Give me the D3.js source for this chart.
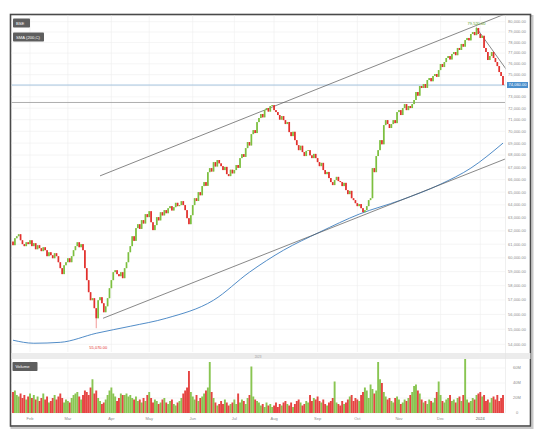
<!DOCTYPE html>
<html><head><meta charset="utf-8">
<script src="https://cdn.jsdelivr.net/npm/d3@7/dist/d3.min.js"></script>
<style>body{margin:0;background:#fff;font-family:"Liberation Sans",Arial,sans-serif}</style>
</head><body><script>
// daily closes (trading days from 19 Jan 2023)
var closes = [
 60930,61450,61600,61750,61300,61010,60860,61150,61010,61300,
 60860,61080,60630,60930,60710,60490,60780,60560,60120,60410,
 60190,59970,60340,60120,59680,59250,58820,59460,59680,59970,
 59680,60120,60560,60860,61150,60780,61010,60560,59250,58390,
 57540,56980,57120,56430,55740,56980,57190,56770,56150,56560,
 57120,57820,58390,58960,59100,58820,58670,58960,58530,59250,
 59680,60410,60860,61600,61250,62210,62510,62150,62820,62560,
 63280,63050,63510,62660,62060,62440,63050,62800,63430,63180,
 63590,63350,63740,63900,63560,63820,64160,63900,63980,64290,
 63980,63590,62970,62510,63200,63980,64520,64300,65000,64750,
 65480,65800,65500,66600,66930,66650,67420,67060,67590,67320,
 67090,66770,67030,66440,66280,66800,66500,66770,67180,66950,
 67750,68080,67850,68580,69090,68800,69760,70100,69850,70790,
 71140,71490,71200,71830,72010,71700,72190,72270,71830,71660,
 71400,71000,71310,70960,70620,70800,69930,69590,69960,69250,
 68830,68410,68780,68250,67920,68350,68410,67980,67750,68100,
 67750,67420,67090,67360,66770,66440,66620,66120,65800,65560,
 65960,66220,65880,65800,65480,65740,65160,64840,65100,64520,
 64370,64130,63900,64060,63740,63430,63590,63900,64370,64520,
 66930,66600,67920,68410,69250,68900,70530,70960,70620,70280,
 70620,70960,70700,71660,71830,71400,72010,72360,71830,72190,
 72010,72360,72720,73430,73100,73970,73790,74150,73800,74510,
 74690,74400,74880,75060,74800,75420,75980,75700,76160,76540,
 76720,76400,76910,77100,76800,77480,77290,77860,77600,78230,
 78430,78200,78810,79000,78700,79390,78810,78430,78640,77480,
 77100,76350,76720,77100,76540,76160,75790,75240,74880,74060
];
var firstOpen = 61200;
// volumes in millions
var volumes = [
 28,30,24,22,26,20,24,18,22,26, 20,24,18,22,16,20,26,18,22,14,
 16,20,24,18,22,26,20,14,18,16, 14,20,24,26,28,22,18,24,30,28,
 24,34,45,26,30,20,16,12,14,18, 24,30,34,26,22,16,20,26,24,24,
 26,22,24,20,18,22,16,18,14,20, 16,24,28,20,14,18,16,12,14,18,
 20,14,12,16,18,12,10,14,16,20, 26,30,34,56,28,22,18,24,16,20,
 22,26,30,34,68,28,20,14,10,12, 16,12,18,14,10,12,14,18,12,26,
 14,18,16,12,20,24,62,22,18,16, 14,10,12,8,14,10,12,8,10,14,
 8,12,10,14,16,12,10,14,8,12, 16,18,14,10,12,16,14,24,16,20,
 18,22,16,14,18,12,10,14,16,20, 42,14,12,10,16,12,14,18,22,24,
 16,20,18,16,24,28,34,30,20,38, 32,26,30,68,45,40,28,22,18,20,
 16,14,20,22,18,12,14,18,16,20, 24,28,36,38,30,26,18,14,16,12,
 18,16,14,20,28,42,24,16,14,18, 20,24,16,18,14,20,22,16,24,72,
 18,14,16,20,18,24,26,28,22,24, 16,18,14,20,22,18,24,16,20,24
];
// wicks that stand out beyond the bodies: [index, high, low]
var wicks = [[44, 56430, 55070], [245, 79520, 78700]];
// moving average, read at a few candles: [index, value]
var sma = [[0,54270],[11,54070],[25,54130],[44,54730],[62,55200],[81,55740],[106,56980],
 [125,58960],[143,60560],[162,61900],[183,63280],[205,64370],[226,65630],[242,66930],[259,69000]];
// drawn lines: [[index, price], [index, price]]
var channelTop = [[46, 66300], [260, 80750]];
var channelBottom = [[47.6, 55740], [260, 67670]];
var peakLine = [[245, 79390], [261, 75420]];
var levelLine = 72500;
var priceTicks = [54000,55000,56000,57000,58000,59000,60000,61000,62000,63000,64000,65000,66000,
 67000,68000,69000,70000,71000,72000,73000,74000,75000,76000,77000,78000,79000,80000];
var volTicks = [0, 20, 40, 60];
var volTickLabels = ['0', '20M', '40M', '60M'];
var monthLabels = ['Feb','Mar','Apr','May','Jun','Jul','Aug','Sep','Oct','Nov','Dec','2024'];

var svg = d3.select('body').append('svg').attr('width', 536).attr('height', 434);

// trading days
var days = [], dd = new Date(2023, 0, 19);
while (days.length < closes.length) { if (dd.getDay() % 6) days.push(new Date(dd)); dd.setDate(dd.getDate() + 1); }
var monthIdx = [];
days.forEach(function(d, i){ if (i > 0 && d.getMonth() != days[i-1].getMonth()) monthIdx.push(i); });

var x = d3.scaleLinear().domain([0, closes.length - 1]).range([13, 503]);
var y = d3.scaleLog().domain([54000, 80000]).range([344.3, 21.7]);
var yv = d3.scaleLinear().domain([0, 60]).range([413, 368]);
var fmt = d3.format(',.2f');
var up = '#7cbf3f', down = '#e2302d';

// frame
svg.append('rect').attr('x', 11.5).attr('y', 16).attr('width', 521).attr('height', 412).attr('fill', 'none').attr('stroke', '#c8c8c8').attr('stroke-width', 2);
svg.append('rect').attr('x', 10.5).attr('y', 14.5).attr('width', 520).attr('height', 411.5).attr('fill', '#fff').attr('stroke', '#4a4a4a').attr('stroke-width', 1.6);

svg.append('clipPath').attr('id', 'pc').append('rect').attr('x', 11.5).attr('y', 15.5).attr('width', 494).attr('height', 337);

// grid
var grid = svg.append('g').attr('stroke', '#eeeeee').attr('stroke-width', 0.6);
priceTicks.forEach(function(p){ grid.append('line').attr('x1', 11.5).attr('x2', 505).attr('y1', y(p)).attr('y2', y(p)); });
volTicks.forEach(function(v){ grid.append('line').attr('x1', 11.5).attr('x2', 505).attr('y1', yv(v)).attr('y2', yv(v)); });
monthIdx.forEach(function(i){
	grid.append('line').attr('x1', x(i)).attr('x2', x(i)).attr('y1', 15.5).attr('y2', 352);
	grid.append('line').attr('x1', x(i)).attr('x2', x(i)).attr('y1', 360).attr('y2', 413);
});

// panel separator
svg.append('rect').attr('x', 11.5).attr('y', 353).attr('width', 519).attr('height', 6).attr('fill', '#ececec');
svg.append('text').attr('x', 258).attr('y', 357.5).attr('font-size', 3).attr('fill', '#999').attr('text-anchor', 'middle').text('2023');
svg.append('line').attr('x1', 505.5).attr('x2', 505.5).attr('y1', 15.5).attr('y2', 413).attr('stroke', '#e4e4e4').attr('stroke-width', 0.6);

var plot = svg.append('g').attr('clip-path', 'url(#pc)');

// horizontal levels
plot.append('line').attr('x1', 11.5).attr('x2', 505).attr('y1', y(levelLine)).attr('y2', y(levelLine)).attr('stroke', '#9a9a9a').attr('stroke-width', 0.8);
plot.append('line').attr('x1', 11.5).attr('x2', 505).attr('y1', y(closes[closes.length-1])).attr('y2', y(closes[closes.length-1])).attr('stroke', '#8fb6d8').attr('stroke-width', 0.8);

// moving average
plot.append('path').datum(sma).attr('fill', 'none').attr('stroke', '#3d7fc1').attr('stroke-width', 0.9)
	.attr('d', d3.line().x(function(d){ return x(d[0]); }).y(function(d){ return y(d[1]); }).curve(d3.curveMonotoneX));

// trend lines
[channelTop, channelBottom, peakLine].forEach(function(l){
	plot.append('line').attr('x1', x(l[0][0])).attr('y1', y(l[0][1])).attr('x2', x(l[1][0])).attr('y2', y(l[1][1]))
		.attr('stroke', '#555').attr('stroke-width', 0.7);
});

// candles
var candles = closes.map(function(c, i){
	var o = i ? closes[i-1] : firstOpen;
	var hi = Math.max(o, c), lo = Math.min(o, c);
	wicks.forEach(function(w){ if (w[0] == i) { hi = Math.max(hi, w[1]); lo = Math.min(lo, w[2]); } });
	return {i: i, o: o, c: c, hi: hi, lo: lo, up: c >= o};
});
var cg = plot.append('g');
cg.selectAll('line').data(candles).enter().append('line')
	.attr('x1', function(d){ return x(d.i); }).attr('x2', function(d){ return x(d.i); })
	.attr('y1', function(d){ return y(d.hi); }).attr('y2', function(d){ return y(d.lo); })
	.attr('stroke', function(d){ return d.up ? up : down; }).attr('stroke-width', 0.5);
cg.selectAll('rect').data(candles).enter().append('rect')
	.attr('x', function(d){ return x(d.i) - 0.85; }).attr('width', 1.7)
	.attr('y', function(d){ return y(Math.max(d.o, d.c)); })
	.attr('height', function(d){ return Math.max(0.8, Math.abs(y(d.o) - y(d.c))); })
	.attr('fill', function(d){ return d.up ? up : down; });

// volume
svg.append('g').selectAll('rect').data(volumes).enter().append('rect')
	.attr('x', function(d, i){ return x(i) - 0.95; }).attr('width', 1.9)
	.attr('y', function(d){ return yv(d); }).attr('height', function(d){ return yv(0) - yv(d); })
	.attr('fill', function(d, i){ return candles[i].up ? up : down; }).attr('opacity', 0.9);

// axes text
var ax = svg.append('g').attr('font-size', 4).attr('fill', '#8c8c8c');
priceTicks.forEach(function(p){ ax.append('text').attr('x', 517).attr('y', y(p) + 1.4).attr('text-anchor', 'middle').text(fmt(p)); });
volTicks.forEach(function(v, k){ ax.append('text').attr('x', 517).attr('y', yv(v) + 1.4).attr('text-anchor', 'middle').text(volTickLabels[k]); });
monthIdx.forEach(function(i, k){
	ax.append('text').attr('x', x(i)).attr('y', 420).attr('text-anchor', 'middle')
		.attr('fill', k == monthLabels.length - 1 ? '#555' : '#8c8c8c').text(monthLabels[k]);
});

// current price tag
var last = closes[closes.length-1];
svg.append('rect').attr('x', 507).attr('y', y(last) - 3).attr('width', 21).attr('height', 6).attr('fill', '#4a8fcc');
svg.append('text').attr('x', 517.5).attr('y', y(last) + 1.4).attr('text-anchor', 'middle').attr('font-size', 4).attr('fill', '#fff').text(fmt(last));

// high / low marks
var hiC = candles.reduce(function(a, b){ return b.hi > a.hi ? b : a; });
var loC = candles.reduce(function(a, b){ return b.lo < a.lo ? b : a; });
svg.append('text').attr('x', x(hiC.i)).attr('y', y(hiC.hi) - 2).attr('text-anchor', 'middle').attr('font-size', 4).attr('fill', '#5a9e2a').text(fmt(hiC.hi));
svg.append('text').attr('x', x(loC.i) + 2).attr('y', 348.5).attr('text-anchor', 'middle').attr('font-size', 4).attr('fill', '#e2302d').text(fmt(loC.lo));

// labels
function tag(tx, ty, w, t){
	svg.append('rect').attr('x', tx).attr('y', ty).attr('width', w).attr('height', 9).attr('fill', '#5e5e5e').attr('rx', 0.8);
	svg.append('text').attr('x', tx + 3).attr('y', ty + 6).attr('font-size', 4.2).attr('fill', '#fff').text(t);
}
tag(13, 18.5, 17, 'BSE');
tag(13, 32.5, 31, 'SMA (200,C)');
tag(12.5, 362, 25, 'Volume');
</script></body></html>
